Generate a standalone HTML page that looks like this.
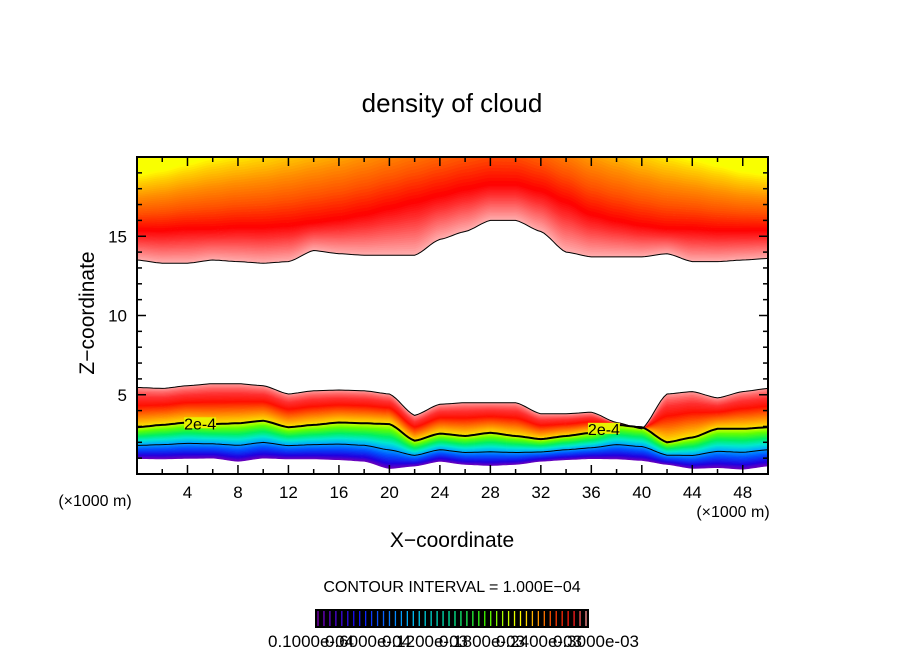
<!DOCTYPE html>
<html><head><meta charset="utf-8"><style>
html,body{margin:0;padding:0;background:#fff;}
svg{display:block;font-family:"Liberation Sans",sans-serif;}
</style></head><body>
<svg id="chart" width="904" height="654" viewBox="0 0 904 654">
<text x="452" y="112" font-size="26" text-anchor="middle">density of cloud</text>
<g id="plot"></g>
<text transform="translate(94,313) rotate(-90)" font-size="21" text-anchor="middle">Z−coordinate</text>
<text x="452" y="547" font-size="21" text-anchor="middle">X−coordinate</text>
<text x="95" y="506" font-size="16" text-anchor="middle">(×1000 m)</text>
<text x="733" y="517" font-size="16" text-anchor="middle">(×1000 m)</text>
<text x="452" y="592" font-size="16" text-anchor="middle">CONTOUR INTERVAL = 1.000E−04</text>
<g id="cbar"></g>
</svg>
<script>
// ---- data (x in km, z in km) ----
const xs = [0,2,4,6,8,10,12,14,16,18,20,22,24,26,28,30,32,34,36,38,40,42,44,46,48,50];
// upper cloud: base (white boundary), red core, yellow height
const upperBase = [13.5,13.3,13.3,13.5,13.4,13.3,13.4,14.1,13.9,13.8,13.8,13.8,14.8,15.3,16.0,16.0,15.3,14.0,13.7,13.7,13.7,13.9,13.4,13.4,13.5,13.6];
const upperCore = [15.4,15.4,15.5,15.5,15.6,15.6,15.7,15.9,16.1,16.4,16.8,17.2,17.6,18.0,18.3,18.3,17.9,17.2,16.4,16.0,15.7,15.5,15.5,15.4,15.4,15.4];
const upperYellow = [18.9,19.2,19.6,20.0,20.3,20.6,21.0,21.4,21.8,22.3,22.8,23.3,23.8,24.2,24.5,24.3,23.6,22.8,22.0,21.4,20.8,20.3,19.9,19.5,19.1,18.9];
// lower cloud: top, 2e-4 contour, base
const lowerTop = [5.46,5.4,5.57,5.7,5.7,5.57,5.05,5.25,5.3,5.25,5.05,3.7,4.4,4.5,4.5,4.5,3.8,3.8,3.9,3.25,2.85,5.05,5.2,4.8,5.2,5.4];
const contour2e4 = [2.95,3.1,3.25,3.15,3.2,3.36,2.95,3.1,3.25,3.2,3.15,2.1,2.55,2.4,2.6,2.4,2.2,2.4,2.6,3.1,2.95,2.0,2.3,2.85,2.85,2.95];
const lowerBase = [0.97,0.95,0.98,1.0,0.8,1.0,0.95,0.95,0.9,0.8,0.34,0.5,0.8,0.6,0.53,0.6,0.8,0.9,0.97,0.95,0.85,0.6,0.35,0.4,0.3,0.5];
const xTicks = [4,8,12,16,20,24,28,32,36,40,44,48];
const zTicks = [5,10,15];
const cbarLabels = ["0.1000e-04","0.6000e-04","0.1200e-03","0.1800e-03","0.2400e-03","0.3000e-03"];

const NS="http://www.w3.org/2000/svg";
const X0=137,X1=768,Y0=157,Y1=474,XMAX=50,ZMAX=20;
const sx=u=>X0+(X1-X0)*u/XMAX;
const sz=z=>Y1-(Y1-Y0)*z/ZMAX;
function interp(arr,u){
  for(let i=0;i<xs.length-1;i++){ if(u<=xs[i+1]){const t=(u-xs[i])/(xs[i+1]-xs[i]);const s=t*t*(3-2*t);return arr[i]+(arr[i+1]-arr[i])*(0.5*t+0.5*s);} }
  return arr[arr.length-1];
}
function el(tag,attrs,parent){const e=document.createElementNS(NS,tag);for(const k in attrs)e.setAttribute(k,attrs[k]);parent.appendChild(e);return e;}
function hex(c){return [parseInt(c.slice(1,3),16),parseInt(c.slice(3,5),16),parseInt(c.slice(5,7),16)];}
function colAt(stops,f){
  for(let i=0;i<stops.length-1;i++){ if(f<=stops[i+1][0]){const t=(f-stops[i][0])/(stops[i+1][0]-stops[i][0]);const a=hex(stops[i][1]),b=hex(stops[i+1][1]);return `rgb(${a.map((v,j)=>Math.round(v+(b[j]-v)*t)).join(',')})`;} }
  return stops[stops.length-1][1];
}
const plot=document.getElementById('plot');
const defs=el('defs',{},plot);
const cp=el('clipPath',{id:'clip'},defs);
el('rect',{x:X0,y:Y0,width:X1-X0,height:Y1-Y0},cp);
const g=el('g',{'clip-path':'url(#clip)'},plot);


const US=[];for(let u=0;u<=XMAX+0.001;u+=0.25)US.push(u);

function bands(levelFn,stops,n,name){
  for(let i=0;i<n;i++){
    const f0=i/n,f1=(i+1)/n;
    const top=US.map(u=>`${sx(u).toFixed(1)},${sz(levelFn(u,f1)).toFixed(1)}`);
    const bot=US.slice().reverse().map(u=>`${sx(u).toFixed(1)},${sz(levelFn(u,f0)).toFixed(1)}`);
    const p=el('polygon',{points:top.concat(bot).join(' '),fill:colAt(stops,(f0+f1)/2),stroke:colAt(stops,(f0+f1)/2),'stroke-width':0.6},g);
    
    
  }
}
bands((u,f)=>{const b=interp(lowerBase,u),c=interp(contour2e4,u);return b+(c-b)*f;},
  [[0,'#7000b8'],[0.12,'#2000e0'],[0.3,'#0050ff'],[0.45,'#00a8ff'],[0.58,'#00e8d0'],[0.72,'#00f060'],[0.88,'#60ff00'],[1,'#d8ff00']],30,'lower-cloud-band');
bands((u,f)=>{const c=interp(contour2e4,u),t=interp(lowerTop,u);return c+(t-c)*f;},
  [[0,'#f8f000'],[0.15,'#ffb000'],[0.35,'#ff6000'],[0.55,'#ff1000'],[0.75,'#ff3030'],[0.9,'#ff6868'],[1,'#ff9c9c']],30,'lower-cloud-band');
bands((u,f)=>{const b=interp(upperBase,u),c=interp(upperCore,u);return b+(c-b)*f;},
  [[0,'#ffb0b0'],[0.35,'#ff7070'],[0.7,'#ff3030'],[1,'#ff0000']],24,'upper-cloud-band');
bands((u,f)=>{const c=interp(upperCore,u),y=interp(upperYellow,u);return c+(y-c)*f;},
  [[0,'#ff0000'],[0.3,'#ff5000'],[0.6,'#ff9000'],[0.85,'#ffd000'],[1,'#ffff00']],30,'upper-cloud-band');
bands((u,f)=>{const y=interp(upperYellow,u);return y+(26-y)*f;},[[0,'#ffff00'],[1,'#e8ff00']],2,'upper-cloud-band');

function line(arr,w,name){
  const pts=US.map(u=>`${sx(u).toFixed(1)},${sz(interp(arr,u)).toFixed(1)}`).join(' ');
  const l=el('polyline',{points:pts,fill:'none',stroke:'#000','stroke-width':w},g);
  
  
}
line(upperBase,1,'upper-cloud-outline');
line(lowerTop,1,'lower-cloud-outline');
line(contour2e4,2,'contour-2e-4');
const c1=contour2e4.map((c,i)=>lowerBase[i]+(c-lowerBase[i])*0.42);
line(c1,1,'contour-1e-4');
[[5,'2e-4'],[37,'2e-4']].forEach(([u,t])=>{
  const x=sx(u),y=sz(interp(contour2e4,u));
  el('rect',{x:x-16,y:y-6,width:32,height:11,fill:'#e8f000'},g);
  const tx=el('text',{x:x,y:y+6,'font-size':16,'text-anchor':'middle'},g);
  tx.textContent=t;
  
  
});
const ax=el('g',{},plot);


el('rect',{x:X0,y:Y0,width:X1-X0,height:Y1-Y0,fill:'none',stroke:'#000','stroke-width':2},ax);
for(let u=2;u<XMAX;u+=2){
  const major=u%4===0,L=major?9:5,x=sx(u);
  el('line',{x1:x,y1:Y1,x2:x,y2:Y1-L,stroke:'#000','stroke-width':1.5},ax);
  el('line',{x1:x,y1:Y0,x2:x,y2:Y0+L,stroke:'#000','stroke-width':1.5},ax);
}
for(let z=1;z<ZMAX;z++){
  const major=z%5===0,L=major?9:5,y=sz(z);
  el('line',{x1:X0,y1:y,x2:X0+L,y2:y,stroke:'#000','stroke-width':1.5},ax);
  el('line',{x1:X1,y1:y,x2:X1-L,y2:y,stroke:'#000','stroke-width':1.5},ax);
}
xTicks.forEach(u=>{const t=el('text',{x:sx(u),y:498,'font-size':17,'text-anchor':'middle'},ax);t.textContent=u;
  
  });
zTicks.forEach(z=>{const t=el('text',{x:127,y:sz(z)+6,'font-size':17,'text-anchor':'end'},ax);t.textContent=z;
  
  });
const cb=document.getElementById('cbar');
el('rect',{x:315,y:609,width:274,height:19,fill:'#000'},cb);
const cbStops=[[0,'#8000c0'],[0.15,'#1010ff'],[0.35,'#00c0ff'],[0.5,'#00f0a0'],[0.62,'#40ff00'],[0.75,'#ffff00'],[0.88,'#ff4000'],[0.95,'#ff1010'],[1,'#ff9090']];
const NL=46;
for(let i=0;i<NL;i++){
  const x=318+i*268/(NL-1);
  el('line',{x1:x,y1:611,x2:x,y2:626,stroke:colAt(cbStops,i/(NL-1)),'stroke-width':1.3},cb);
}
cbarLabels.forEach((s,i)=>{const t=el('text',{x:311+i*57,y:647,'font-size':17,'text-anchor':'middle'},cb);t.textContent=s;
  
  });
</script>
</body></html>
